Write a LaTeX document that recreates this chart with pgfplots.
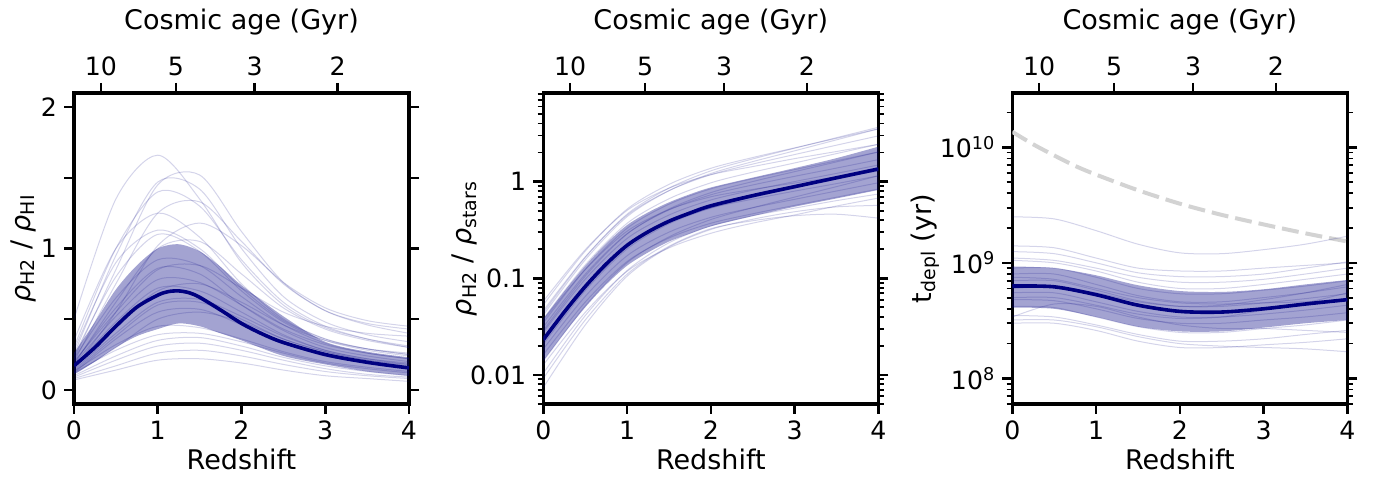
\documentclass[border=0pt]{standalone}
\usepackage{pgfplots}
\pgfplotsset{compat=1.18}
\usepackage{pgfplotstable}
\usepgfplotslibrary{fillbetween}
\usepackage{fontspec}
\setmainfont{DejaVu Sans}
\definecolor{navy}{RGB}{0,0,128}
\definecolor{lgray}{RGB}{211,211,211}

% ---------- panel 1: rho_H2 / rho_HI ----------
\pgfplotstableread{
z m
0 0.17
0.25 0.30
0.5 0.45
0.75 0.585
1 0.67
1.125 0.695
1.25 0.70
1.375 0.687
1.5 0.655
1.75 0.565
2 0.47
2.25 0.395
2.5 0.335
3 0.25
3.5 0.195
4 0.155
}\medA
\pgfplotstableread{
z lo hi
0 0.11 0.26
0.25 0.20 0.48
0.5 0.30 0.71
0.75 0.38 0.88
1 0.43 1.00
1.25 0.47 1.03
1.5 0.45 0.98
1.75 0.40 0.87
2 0.35 0.74
2.5 0.24 0.52
3 0.18 0.34
3.5 0.13 0.27
4 0.10 0.23
}\bandA
\pgfplotstableread{
z a b c d e f g h i j k l m n o p q r s t u v w x y w2
0 0.50 0.22 0.25 0.30 0.20 0.35 0.15 0.28 0.18 0.24 0.12 0.10 0.09 0.08 0.07 0.13 0.20 0.15 0.18 0.14 0.12 0.16 0.22 0.11 0.19 0.13
0.5 1.35 0.85 0.95 1.00 0.75 1.00 0.55 0.90 0.62 0.80 0.28 0.24 0.21 0.17 0.14 0.32 0.55 0.45 0.52 0.40 0.36 0.48 0.65 0.30 0.58 0.38
1 1.66 1.45 1.47 1.40 1.25 1.25 1.02 1.13 1.00 1.10 0.39 0.35 0.31 0.26 0.21 0.45 0.85 0.70 0.78 0.62 0.55 0.72 0.92 0.50 0.86 0.60
1.5 1.35 1.52 1.42 1.30 1.33 1.08 1.18 1.00 1.05 0.98 0.40 0.37 0.33 0.28 0.22 0.44 0.88 0.75 0.76 0.64 0.57 0.70 0.88 0.55 0.82 0.62
2 0.90 1.12 1.00 0.92 1.05 0.75 1.02 0.72 0.82 0.70 0.34 0.31 0.28 0.24 0.19 0.36 0.72 0.62 0.60 0.52 0.46 0.55 0.66 0.48 0.60 0.50
2.5 0.60 0.76 0.66 0.62 0.75 0.50 0.76 0.49 0.58 0.48 0.26 0.23 0.21 0.18 0.14 0.27 0.55 0.46 0.43 0.38 0.33 0.39 0.46 0.36 0.42 0.36
3 0.44 0.56 0.48 0.45 0.56 0.36 0.58 0.36 0.43 0.35 0.19 0.17 0.15 0.13 0.10 0.20 0.45 0.35 0.32 0.28 0.24 0.28 0.33 0.27 0.30 0.27
3.5 0.36 0.46 0.39 0.36 0.47 0.29 0.49 0.29 0.35 0.28 0.15 0.13 0.11 0.10 0.08 0.16 0.40 0.29 0.26 0.22 0.19 0.22 0.26 0.21 0.24 0.21
4 0.31 0.40 0.34 0.30 0.43 0.25 0.45 0.25 0.30 0.24 0.12 0.10 0.09 0.08 0.06 0.13 0.38 0.26 0.22 0.19 0.16 0.18 0.22 0.17 0.20 0.18
}\linesA

% ---------- panel 2: rho_H2 / rho_stars ----------
\pgfplotstableread{
z m lo hi
0 0.0231 0.014 0.038
0.25 0.0447 0.027 0.073
0.5 0.082 0.050 0.134
0.75 0.140 0.086 0.228
1 0.219 0.135 0.355
1.25 0.302 0.185 0.48
1.5 0.389 0.24 0.61
1.75 0.473 0.29 0.74
2 0.562 0.345 0.87
2.5 0.716 0.44 1.10
3 0.887 0.55 1.38
3.5 1.096 0.67 1.75
4 1.352 0.82 2.30
}\bandB
\pgfplotstableread{
z A B C D E F G H I J K L M N O P Q R S T
0 0.0531 0.0462 0.0416 0.0381 0.0347 0.0312 0.0277 0.037 0.0208 0.0185 0.0162 0.0127 0.0074 0.0092 0.0139 0.0289 0.0104 0.0243 0.0578 0.0439
0.5 0.191 0.166 0.155 0.137 0.123 0.110 0.0976 0.123 0.0746 0.0648 0.0566 0.0443 0.0328 0.0369 0.0517 0.105 0.041 0.0836 0.197 0.164
1 0.519 0.449 0.434 0.370 0.329 0.289 0.258 0.307 0.201 0.171 0.149 0.118 0.105 0.110 0.145 0.287 0.120 0.219 0.504 0.460
1.5 0.936 0.807 0.805 0.665 0.584 0.510 0.451 0.513 0.366 0.300 0.261 0.206 0.210 0.214 0.268 0.521 0.233 0.377 0.856 0.856
2 1.374 1.18 1.214 0.972 0.843 0.731 0.646 0.697 0.534 0.427 0.371 0.292 0.320 0.326 0.405 0.770 0.348 0.534 1.18 1.293
2.5 1.776 1.52 1.611 1.253 1.074 0.924 0.816 0.831 0.687 0.537 0.465 0.372 0.408 0.394 0.537 1.002 0.444 0.659 1.432 1.718
3 2.235 1.907 2.084 1.561 1.331 1.135 1.002 0.967 0.860 0.656 0.568 0.452 0.488 0.444 0.692 1.268 0.532 0.798 1.73 2.218
3.5 2.806 2.384 2.707 1.951 1.644 1.381 1.217 1.118 1.085 0.800 0.690 0.559 0.548 0.460 0.888 1.600 0.636 0.954 2.05 2.85
4 3.515 2.974 3.515 2.434 2.028 1.69 1.487 1.284 1.352 0.973 0.838 0.676 0.568 0.419 1.149 2.028 0.744 1.149 2.434 3.65
}\linesB

% ---------- panel 3: t_depl ----------
\pgfplotstableread{
z m lo hi
0 6.3e8 4.1e8 9.3e8
0.5 6.2e8 4.0e8 9.0e8
1 5.3e8 3.4e8 7.8e8
1.5 4.3e8 2.8e8 6.4e8
2 3.8e8 2.55e8 5.7e8
2.5 3.75e8 2.55e8 5.6e8
3 4.0e8 2.75e8 5.9e8
3.5 4.4e8 3.0e8 6.5e8
4 4.8e8 3.2e8 7.1e8
}\bandC
\pgfplotstableread{
z a b c d e f g h i j k l m n o p q r
0 25e8 14e8 12.5e8 11e8 10.5e8 9e8 8e8 7e8 5.5e8 4.8e8 4.2e8 3.5e8 3.0e8 3.4e8 3.2e8 6e8 5e8 7.5e8
0.5 24e8 13.5e8 12e8 10.5e8 10e8 9e8 8e8 7e8 5.5e8 4.7e8 4.1e8 3.4e8 3.0e8 4.4e8 3.2e8 6.2e8 5e8 7.2e8
1 19e8 11e8 10e8 9e8 8.5e8 7.5e8 6.5e8 5.8e8 4.6e8 4e8 3.4e8 2.9e8 2.6e8 4.2e8 2.8e8 5.5e8 4.3e8 6e8
1.5 14.5e8 9e8 8.2e8 7.5e8 6.8e8 6e8 5.2e8 4.7e8 3.8e8 3.3e8 2.8e8 2.4e8 2.1e8 3.4e8 2.3e8 4.6e8 3.6e8 5e8
2 12.2e8 8.5e8 7.6e8 6.8e8 6e8 5.4e8 4.6e8 4.2e8 3.4e8 3e8 2.5e8 2.1e8 1.85e8 2.9e8 2.0e8 4.2e8 3.3e8 4.5e8
2.5 12e8 8.5e8 7.6e8 6.8e8 6e8 5.4e8 4.6e8 4.2e8 3.4e8 3e8 2.5e8 2.1e8 1.85e8 2.7e8 1.9e8 4.3e8 3.4e8 4.4e8
3 13e8 9e8 8e8 7.2e8 6.5e8 5.8e8 5e8 4.5e8 3.6e8 3.2e8 2.7e8 2.2e8 1.95e8 2.7e8 1.85e8 4.8e8 3.9e8 4.5e8
3.5 14.5e8 9.5e8 9e8 8e8 7.2e8 6.3e8 5.5e8 4.9e8 3.9e8 3.4e8 2.9e8 2.4e8 2.05e8 2.6e8 1.8e8 5.5e8 4.5e8 4.6e8
4 17e8 10e8 10.2e8 9e8 8e8 7e8 6.2e8 5.4e8 4.3e8 3.7e8 3.2e8 2.6e8 2.2e8 2.5e8 1.7e8 6.5e8 5.5e8 4.8e8
}\linesC
\pgfplotstableread{
z age
0 13.6e9
0.25 10.6e9
0.5 8.5e9
0.75 6.9e9
1 5.8e9
1.5 4.25e9
2 3.25e9
2.5 2.6e9
3 2.15e9
3.5 1.8e9
4 1.53e9
}\ageC

\pgfplotsset{
  panel/.style={
    scale only axis, width=167.5bp, height=155.5bp,
    anchor=south west,
    xmin=0, xmax=4,
    axis line style={line width=1.6bp},
    every major tick/.append style={line width=1.3bp, black},
    every minor tick/.append style={line width=0.9bp, black},
    major tick length=5bp, minor tick length=2.8bp,
    tick align=outside,
    xtick pos=left, ytick pos=both, yticklabel pos=left,
    xtick={0,1,2,3,4}, xticklabels={0,1,2,3,4},
    tick label style={font=\fontsize{12.6bp}{14bp}\selectfont},
    label style={font=\fontsize{13.5bp}{16bp}\selectfont},
    xlabel={Redshift},
    xlabel style={at={(axis description cs:0.5,-0.212)}, anchor=base},
  },
  agetop/.style={
    scale only axis, width=167.5bp, height=155.5bp,
    anchor=south west,
    xmin=0, xmax=4, ymin=0, ymax=1,
    axis x line*=top, axis y line=none,
    axis line style={draw=none},
    every major tick/.append style={line width=1.3bp, black},
    major tick length=5bp, tick align=outside, xtick pos=right,
    xtick={0.32,1.216,2.158,3.148}, xticklabels={10,5,3,2},
    tick label style={font=\fontsize{12.6bp}{14bp}\selectfont},
    label style={font=\fontsize{13.5bp}{16bp}\selectfont},
    xlabel={Cosmic age (Gyr)},
    xlabel style={at={(axis description cs:0.5,1.2026)}, anchor=base},
  },
  thinl/.style={navy, opacity=0.17, line width=0.5bp, smooth, forget plot},
}

\begin{document}
\begin{tikzpicture}

% ===== panel 1 =====
\begin{axis}[panel, at={(37bp,38.5bp)},
  ymin=-0.1, ymax=2.1, ytick={0,0.5,1,1.5,2}, yticklabels={0,,1,,2},
  ylabel={\textit{ρ}\textsubscript{H2} / \textit{ρ}\textsubscript{HI}},
  ylabel style={at={(axis description cs:-0.152,0.5)}, anchor=center}]
\pgfplotsinvokeforeach{1,...,26}{\addplot[thinl] table[x index=0, y index=#1]{\linesA};}
\addplot[name path=hiA, draw=none, smooth, forget plot] table[x=z,y=hi]{\bandA};
\addplot[name path=loA, draw=none, smooth, forget plot] table[x=z,y=lo]{\bandA};
\addplot[fill=navy, fill opacity=0.36, draw=none, forget plot] fill between[of=hiA and loA];
\addplot[navy, line width=1.8bp, smooth] table[x=z,y=m]{\medA};
\end{axis}
\begin{axis}[agetop, at={(37bp,38.5bp)}]
\addplot[draw=none, forget plot] coordinates {(0,0) (4,1)};
\end{axis}

% ===== panel 2 =====
\begin{axis}[panel, at={(271.65bp,38.5bp)}, ymode=log,
  ymin=0.005, ymax=8.27, ytick={0.01,0.1,1}, yticklabels={0.01,0.1,1},
  minor ytick={0.005,0.006,0.007,0.008,0.009,0.02,0.03,0.04,0.05,0.06,0.07,0.08,0.09,0.2,0.3,0.4,0.5,0.6,0.7,0.8,0.9,2,3,4,5,6,7,8},
  ylabel={\textit{ρ}\textsubscript{H2} / \textit{ρ}\textsubscript{stars}},
  ylabel style={at={(axis description cs:-0.234,0.5)}, anchor=center}]
\pgfplotsinvokeforeach{1,...,20}{\addplot[thinl] table[x index=0, y index=#1]{\linesB};}
\addplot[name path=hiB, draw=none, smooth, forget plot] table[x=z,y=hi]{\bandB};
\addplot[name path=loB, draw=none, smooth, forget plot] table[x=z,y=lo]{\bandB};
\addplot[fill=navy, fill opacity=0.36, draw=none, forget plot] fill between[of=hiB and loB];
\addplot[navy, line width=1.8bp, smooth] table[x=z,y=m]{\bandB};
\end{axis}
\begin{axis}[agetop, at={(271.65bp,38.5bp)}]
\addplot[draw=none, forget plot] coordinates {(0,0) (4,1)};
\end{axis}

% ===== panel 3 =====
\begin{axis}[panel, at={(506.15bp,38.5bp)}, ymode=log,
  ymin=6e7, ymax=2.95e10, ytick={1e8,1e9,1e10},
  yticklabels={10\textsuperscript{8},10\textsuperscript{9},10\textsuperscript{10}},
  minor ytick={6e7,7e7,8e7,9e7,2e8,3e8,4e8,5e8,6e8,7e8,8e8,9e8,2e9,3e9,4e9,5e9,6e9,7e9,8e9,9e9,2e10},
  ylabel={t\textsubscript{depl} (yr)},
  ylabel style={at={(axis description cs:-0.26,0.5)}, anchor=center}]
\addplot[lgray, line width=2bp, dash pattern=on 8.5bp off 3.5bp, smooth, forget plot] table[x=z,y=age]{\ageC};
\pgfplotsinvokeforeach{1,...,18}{\addplot[thinl] table[x index=0, y index=#1]{\linesC};}
\addplot[name path=hiC, draw=none, smooth, forget plot] table[x=z,y=hi]{\bandC};
\addplot[name path=loC, draw=none, smooth, forget plot] table[x=z,y=lo]{\bandC};
\addplot[fill=navy, fill opacity=0.36, draw=none, forget plot] fill between[of=hiC and loC];
\addplot[navy, line width=1.8bp, smooth] table[x=z,y=m]{\bandC};
\end{axis}
\begin{axis}[agetop, at={(506.15bp,38.5bp)}]
\addplot[draw=none, forget plot] coordinates {(0,0) (4,1)};
\end{axis}

\pgfresetboundingbox
\path (0,0) rectangle (689bp,240.5bp);
\end{tikzpicture}
\end{document}
